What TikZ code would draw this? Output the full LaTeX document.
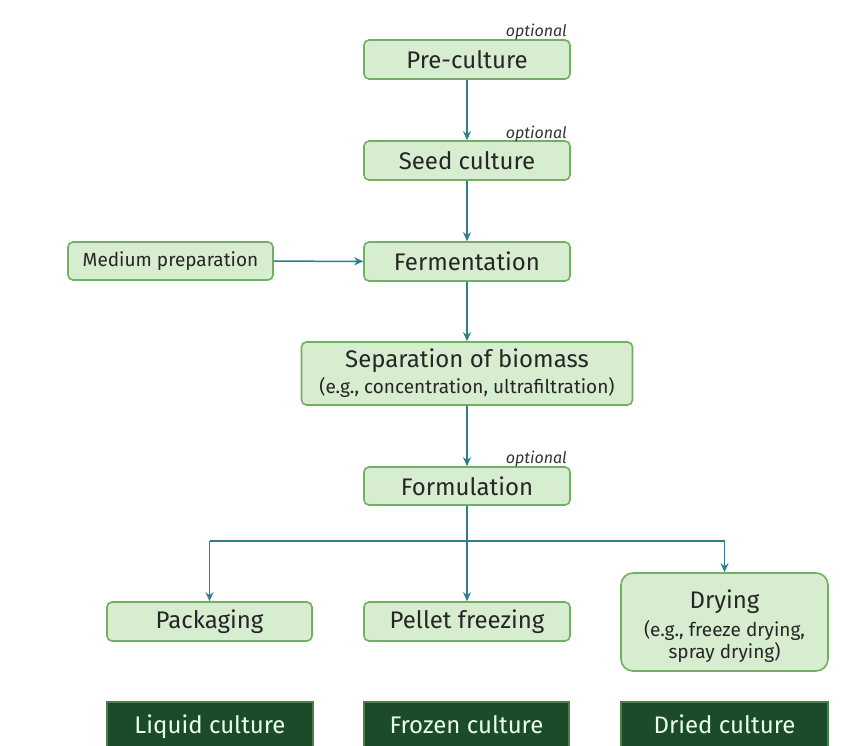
\documentclass[tikz,border=0pt]{standalone}
\usepackage{fontspec}
\setmainfont{Fira Sans}
\usetikzlibrary{arrows.meta}
\definecolor{boxfill}{HTML}{D6EDCF}
\definecolor{boxdraw}{HTML}{72AE63}
\definecolor{arr}{HTML}{2F7F8A}
\definecolor{darkfill}{HTML}{1C4B2A}
\definecolor{darkdraw}{HTML}{4E7E48}
\newcommand{\subtxt}{\fontsize{19}{22}\selectfont}
\tikzset{
  stepbox/.style={draw=boxdraw, fill=boxfill, line width=1.6pt, rounded corners=5pt, inner sep=0pt, align=center, font=\fontsize{24}{27}\selectfont, text=black!85},
  darkbox/.style={draw=darkdraw, fill=darkfill, line width=1.2pt, inner sep=0pt, align=center, font=\fontsize{24}{27}\selectfont, text=white!92!green, text height=17pt, text depth=5pt},
  optlabel/.style={font=\fontsize{16}{18}\selectfont\itshape, text=black!80, anchor=base east, inner sep=0pt},
  flow/.style={draw=arr, line width=1.5pt, -{Stealth[length=9pt,width=8pt]}},
  flowline/.style={draw=arr, line width=1.5pt}
}
\begin{document}
\begin{tikzpicture}[x=1pt,y=-1pt]
\useasboundingbox (0,0) rectangle (858,745);
\node[stepbox, minimum width=206pt, minimum height=39pt] (pre) at (467,59.5) {Pre-culture};
\node[stepbox, minimum width=206pt, minimum height=39pt] (seed) at (467,160.5) {Seed culture};
\node[stepbox, minimum width=206pt, minimum height=39pt] (ferm) at (467,261.5) {Fermentation};
\node[stepbox, minimum width=205pt, minimum height=38pt, font=\subtxt] (med) at (170.5,261) {Medium preparation};
\node[stepbox, minimum width=331pt, minimum height=63pt] (sep) at (467,373.5) {Separation of biomass\\[-1pt]{\subtxt (e.g., concentration, ultrafiltration)}};
\node[stepbox, minimum width=206pt, minimum height=38pt] (form) at (467,486) {Formulation};
\node[stepbox, minimum width=205pt, minimum height=39pt] (pack) at (209.5,621.5) {Packaging};
\node[stepbox, minimum width=206pt, minimum height=39pt] (pell) at (467,621.5) {Pellet freezing};
\node[stepbox, minimum width=207pt, minimum height=98pt, rounded corners=12pt] (dry) at (724.5,622) {};
\node[align=center, inner sep=0pt, font=\fontsize{24}{27}\selectfont, text=black!85] (drytxt) at (724.5,626) {Drying\\[1pt]{\subtxt (e.g., freeze drying,}\\[-5pt]{\subtxt spray drying)}};
\node[darkbox, minimum width=206pt, minimum height=50pt] (liq) at (210,727) {Liquid culture};
\node[darkbox, minimum width=205pt, minimum height=50pt] (froz) at (466.5,727) {Frozen culture};
\node[darkbox, minimum width=207pt, minimum height=50pt] (dried) at (724.5,727) {Dried culture};
\node[optlabel] (o1) at (567,36) {optional};
\node[optlabel] (o2) at (567,138) {optional};
\node[optlabel] (o3) at (567,463) {optional};
\coordinate (split) at (467,541);
\coordinate (splitL) at (209.5,541);
\coordinate (splitR) at (724.5,541);
\draw[flow] (pre) -- (seed);
\draw[flow] (seed) -- (ferm);
\draw[flow] (med) -- (ferm);
\draw[flow] (ferm) -- (sep);
\draw[flow] (sep) -- (form);
\draw[flowline] (form) -- (split);
\draw[flowline] (splitL) -- (splitR);
\draw[flow] (split) -- (pell);
\draw[flow] (splitL) -- (pack);
\draw[flow] (splitR) -- (dry);
\end{tikzpicture}
\end{document}
